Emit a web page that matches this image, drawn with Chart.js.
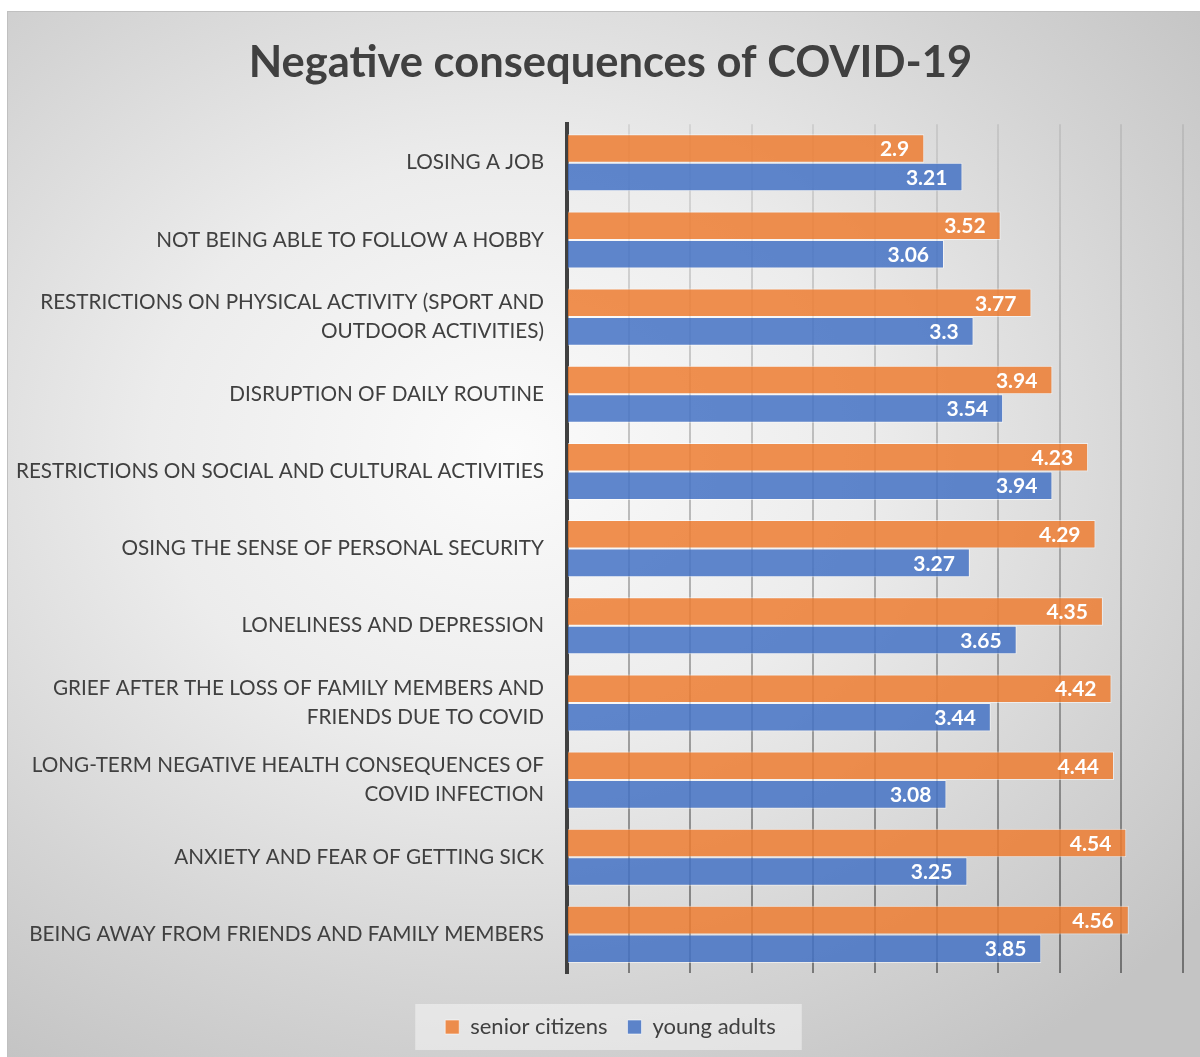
<!DOCTYPE html>
<html>
<head>
<meta charset="utf-8">
<script src="https://cdn.jsdelivr.net/npm/chart.js@4/dist/chart.umd.min.js"></script>
<style>
    html, body { margin: 0; padding: 0; background: #ffffff; }
    #wrap {
        position: absolute;
        left: 7px;
        top: 11px;
        width: 1193px;
        height: 1046px;
        border-left: 1px solid #c0c0c0;
        border-top: 1px solid #c0c0c0;
        box-sizing: border-box;
        background: radial-gradient(ellipse 75% 70% at 42% 42%, #fbfbfb 0%, #ececec 40%, #d4d4d4 75%, #c4c4c4 100%);
    }
</style>
</head>
<body>
<div id="wrap"><canvas id="covidChart"></canvas></div>
<script>
// Negative consequences of COVID-19 - senior citizens vs young adults

const categories = [
    'LOSING A JOB',
    'NOT BEING ABLE TO FOLLOW A HOBBY',
    ['RESTRICTIONS ON PHYSICAL ACTIVITY (SPORT AND', 'OUTDOOR ACTIVITIES)'],
    'DISRUPTION OF DAILY ROUTINE',
    'RESTRICTIONS ON SOCIAL AND CULTURAL ACTIVITIES',
    'OSING THE SENSE OF PERSONAL SECURITY',
    'LONELINESS AND DEPRESSION',
    ['GRIEF AFTER THE LOSS OF FAMILY MEMBERS AND', 'FRIENDS DUE TO COVID'],
    ['LONG-TERM NEGATIVE HEALTH CONSEQUENCES OF', 'COVID INFECTION'],
    'ANXIETY AND FEAR OF GETTING SICK',
    'BEING AWAY FROM FRIENDS AND FAMILY MEMBERS'
];
const seniorCitizens = [2.9, 3.52, 3.77, 3.94, 4.23, 4.29, 4.35, 4.42, 4.44, 4.54, 4.56];
const youngAdults = [3.21, 3.06, 3.3, 3.54, 3.94, 3.27, 3.65, 3.44, 3.08, 3.25, 3.85];
const seriesNames = ['senior citizens', 'young adults'];

const FONT = 'Lato, "Open Sans", sans-serif';
const TEXT_COLOR = '#404040';

// Draws the value inside the end of each bar
const valueLabels = {
    id: 'valueLabels',
    afterDatasetsDraw(chart) {
        const ctx = chart.ctx;
        ctx.save();
        ctx.font = 'bold 21px ' + FONT;
        ctx.fillStyle = '#ffffff';
        ctx.textAlign = 'right';
        ctx.textBaseline = 'middle';
        chart.data.datasets.forEach((ds, i) => {
            chart.getDatasetMeta(i).data.forEach((bar, j) => {
                ctx.fillText(String(ds.data[j]), bar.x - 15, bar.y + 1);
            });
        });
        ctx.restore();
    }
};

// Light panel behind the legend items; title and legend nudged a bit right
const legendPanel = {
    id: 'legendPanel',
    afterLayout(chart) {
        if (chart.titleBlock) chart.titleBlock.left += 30;
        const lg = chart.legend;
        if (lg) {
            lg.left += 30;
            (lg.legendHitBoxes || []).forEach(b => { b.left += 15; });
        }
    },
    beforeDraw(chart) {
        const lg = chart.legend;
        if (!lg || !lg.legendHitBoxes || !lg.legendHitBoxes.length) return;
        const boxes = lg.legendHitBoxes;
        const left = Math.min(...boxes.map(b => b.left)) - 30;
        const right = Math.max(...boxes.map(b => b.left + b.width)) + 26;
        const mid = boxes[0].top + boxes[0].height / 2;
        const ctx = chart.ctx;
        ctx.save();
        ctx.fillStyle = 'rgba(245, 245, 245, 0.55)';
        ctx.fillRect(left, mid - 23, right - left, 46);
        ctx.restore();
    }
};

const ctx = document.getElementById('covidChart').getContext('2d');

new Chart(ctx, {
    type: 'bar',
    data: {
        labels: categories,
        datasets: [
            {
                label: seriesNames[0],
                data: seniorCitizens,
                backgroundColor: 'rgba(237, 125, 49, 0.85)',
                borderColor: 'rgba(255, 255, 255, 0.55)',
                borderWidth: 1
            },
            {
                label: seriesNames[1],
                data: youngAdults,
                backgroundColor: 'rgba(68, 114, 196, 0.85)',
                borderColor: 'rgba(255, 255, 255, 0.55)',
                borderWidth: 1
            }
        ]
    },
    options: {
        indexAxis: 'y',
        responsive: true,
        maintainAspectRatio: false,
        animation: false,
        categoryPercentage: 0.74,
        barPercentage: 1,
        layout: {
            padding: { top: 16, right: 17, bottom: 9, left: 0 }
        },
        scales: {
            x: {
                min: 0,
                max: 5,
                ticks: { display: false, stepSize: 0.5 },
                border: { display: false },
                grid: {
                    drawTicks: false,
                    lineWidth: 2,
                    color: (context) => {
                        const area = context.chart.chartArea;
                        if (!area) return 'rgba(0,0,0,0.2)';
                        const g = context.chart.ctx.createLinearGradient(0, area.top, 0, area.bottom);
                        g.addColorStop(0, 'rgba(0, 0, 0, 0.08)');
                        g.addColorStop(1, 'rgba(0, 0, 0, 0.42)');
                        return g;
                    }
                },
                afterFit: (scale) => { scale.height = 23; }
            },
            y: {
                border: { display: true, color: '#404040', width: 4 },
                grid: { display: false },
                ticks: {
                    color: TEXT_COLOR,
                    padding: 15,
                    font: { family: FONT, size: 20.7, lineHeight: 1.4 }
                },
                afterFit: (scale) => { scale.width = 559; }
            }
        },
        plugins: {
            title: {
                display: true,
                text: 'Negative consequences of COVID-19',
                color: TEXT_COLOR,
                font: { family: FONT, size: 43.5, weight: 'bold' },
                padding: { top: 9, bottom: 35 }
            },
            legend: {
                position: 'bottom',
                labels: {
                    color: TEXT_COLOR,
                    boxWidth: 14,
                    boxHeight: 14,
                    padding: 20,
                    font: { family: FONT, size: 22 }
                }
            },
            tooltip: { enabled: false }
        }
    },
    plugins: [valueLabels, legendPanel]
});
</script>
</body>
</html>
